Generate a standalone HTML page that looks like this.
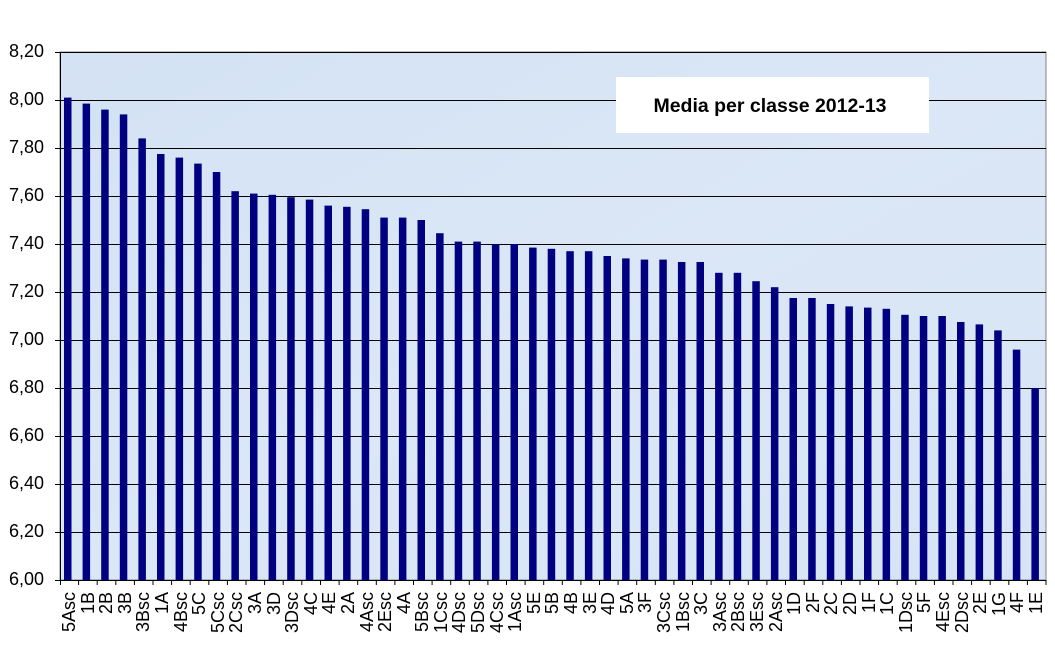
<!DOCTYPE html>
<html><head><meta charset="utf-8"><style>
body{margin:0;width:1055px;height:647px;background:#fff;position:relative;overflow:hidden;font-family:"Liberation Sans",sans-serif}
#labs{position:absolute;left:60px;top:592px;height:54px;display:flex}
#labs div{width:18.6px;height:54px;writing-mode:vertical-rl;transform:rotate(180deg);text-align:end;font-size:18px;line-height:18.6px;color:#000}
.yl{position:absolute;left:0;width:44px;text-align:right;font-size:18px;line-height:20px}
</style></head><body>
<svg width="1055" height="647" style="position:absolute;left:0;top:0">
<defs><linearGradient id="bg" x1="0" y1="0" x2="1" y2="1"><stop offset="0" stop-color="#d3e2f4"/><stop offset="0.5" stop-color="#dbe7f6"/><stop offset="1" stop-color="#d6e4f5"/></linearGradient></defs>
<rect x="60" y="52" width="986" height="528" fill="url(#bg)" stroke="#808080"/>
<g stroke="#000" stroke-width="1">
<line x1="55" y1="52.5" x2="1046" y2="52.5"/><line x1="55" y1="100.5" x2="1046" y2="100.5"/><line x1="55" y1="148.5" x2="1046" y2="148.5"/><line x1="55" y1="196.5" x2="1046" y2="196.5"/><line x1="55" y1="244.5" x2="1046" y2="244.5"/><line x1="55" y1="292.5" x2="1046" y2="292.5"/><line x1="55" y1="340.5" x2="1046" y2="340.5"/><line x1="55" y1="388.5" x2="1046" y2="388.5"/><line x1="55" y1="436.5" x2="1046" y2="436.5"/><line x1="55" y1="484.5" x2="1046" y2="484.5"/><line x1="55" y1="532.5" x2="1046" y2="532.5"/><line x1="55" y1="580.5" x2="1046" y2="580.5"/>
<line x1="60.5" y1="52" x2="60.5" y2="580"/>
</g>
<g id="bars"></g>
<rect x="616" y="77" width="313" height="56" fill="#fff"/>
<text x="770" y="112" text-anchor="middle" font-family="Liberation Sans,sans-serif" font-weight="bold" font-size="19.5">Media per classe 2012-13</text>
</svg>
<div class="yl" style="top:41px">8,20</div><div class="yl" style="top:89px">8,00</div><div class="yl" style="top:137px">7,80</div><div class="yl" style="top:185px">7,60</div><div class="yl" style="top:233px">7,40</div><div class="yl" style="top:281px">7,20</div><div class="yl" style="top:329px">7,00</div><div class="yl" style="top:377px">6,80</div><div class="yl" style="top:425px">6,60</div><div class="yl" style="top:473px">6,40</div><div class="yl" style="top:521px">6,20</div><div class="yl" style="top:569px">6,00</div>
<div id="labs"><div>5Asc</div><div>1B</div><div>2B</div><div>3B</div><div>3Bsc</div><div>1A</div><div>4Bsc</div><div>5C</div><div>5Csc</div><div>2Csc</div><div>3A</div><div>3D</div><div>3Dsc</div><div>4C</div><div>4E</div><div>2A</div><div>4Asc</div><div>2Esc</div><div>4A</div><div>5Bsc</div><div>1Csc</div><div>4Dsc</div><div>5Dsc</div><div>4Csc</div><div>1Asc</div><div>5E</div><div>5B</div><div>4B</div><div>3E</div><div>4D</div><div>5A</div><div>3F</div><div>3Csc</div><div>1Bsc</div><div>3C</div><div>3Asc</div><div>2Bsc</div><div>3Esc</div><div>2Asc</div><div>1D</div><div>2F</div><div>2C</div><div>2D</div><div>1F</div><div>1C</div><div>1Dsc</div><div>5F</div><div>4Esc</div><div>2Dsc</div><div>2E</div><div>1G</div><div>4F</div><div>1E</div></div>
<script>
var v=[8.01,7.985,7.96,7.94,7.84,7.775,7.76,7.735,7.70,7.62,7.61,7.605,7.595,7.585,7.56,7.555,7.545,7.51,7.51,7.50,7.445,7.41,7.41,7.40,7.40,7.385,7.38,7.37,7.37,7.35,7.34,7.335,7.335,7.325,7.325,7.28,7.28,7.245,7.22,7.175,7.175,7.15,7.14,7.135,7.13,7.105,7.10,7.10,7.075,7.065,7.04,6.96,6.80];
var g=document.getElementById('bars'),s='',st=986/53;
for(var i=0;i<v.length;i++){var y=580-(v[i]-6)*240,x=60+i*st+4;
s+='<rect x="'+x.toFixed(1)+'" y="'+y.toFixed(1)+'" width="7.5" height="'+(580-y).toFixed(1)+'" fill="#000080"/>';
s+='<line x1="'+(60+(i+1)*st).toFixed(1)+'" y1="580" x2="'+(60+(i+1)*st).toFixed(1)+'" y2="585" stroke="#000"/>';}
s+='<line x1="60.5" y1="580" x2="60.5" y2="585" stroke="#000"/>';
g.innerHTML=s;
</script>
</body></html>
